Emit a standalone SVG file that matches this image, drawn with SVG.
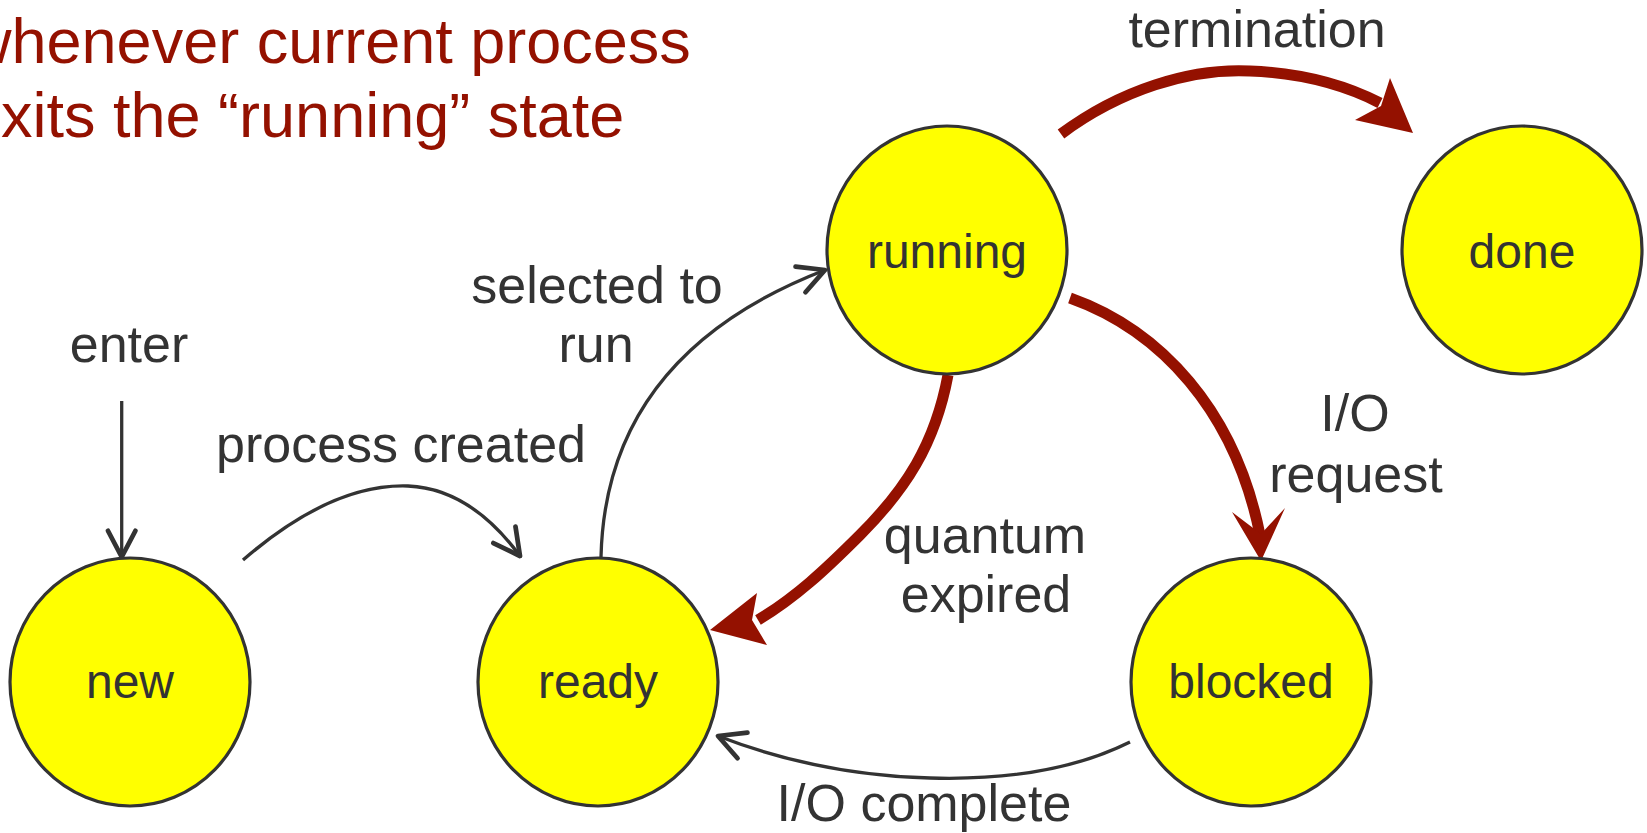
<svg xmlns="http://www.w3.org/2000/svg" width="1647" height="833" viewBox="0 0 1647 833">
  <style>
    .node { fill: #ffff00; stroke: #333333; stroke-width: 3.2; }
    .nlabel { font-family: "Liberation Sans", Arial, sans-serif; font-size: 48px; fill: #333333; text-anchor: middle; }
    .elabel { font-family: "Liberation Sans", Arial, sans-serif; font-size: 52px; fill: #333333; text-anchor: middle; }
    .title { font-family: "Liberation Sans", Arial, sans-serif; font-size: 63px; fill: #941100; }
    .thin { fill: none; stroke: #333333; stroke-width: 3.3; }
    .thick { fill: none; stroke: #941100; stroke-width: 11; }
    .head { fill: #941100; stroke: none; }
  </style>
  <defs>
    <marker id="open" markerUnits="userSpaceOnUse" markerWidth="40" markerHeight="40" viewBox="-26 -16 30 32" refX="0" refY="0" orient="auto">
      <path d="M -21 -11 L 0 0 L -21 11" fill="none" stroke="#333333" stroke-width="3.8" stroke-linecap="round" stroke-linejoin="round"/>
    </marker>
  </defs>
  <rect width="1647" height="833" fill="#ffffff"/>

  <g id="title">
    <text class="title" x="-34" y="63">whenever current process</text>
    <text class="title" x="-34" y="137">exits the “running” state</text>
  </g>

  <g id="connectors">
    <path id="e-enter" class="thin" d="M 121.7 401 L 121.7 557" marker-end="url(#open)"/>
    <path id="e-created" class="thin" d="M 243 560 C 295 515 350 484 408 486 C 455 488 492 518 520 556" marker-end="url(#open)"/>
    <path id="e-selected" class="thin" d="M 601 557 C 604 430 670 330 825 270" marker-end="url(#open)"/>
    <path id="e-iocomplete" class="thin" d="M 1130 742 C 1070 772 1000 780 930 778 C 850 776 780 760 718 736" marker-end="url(#open)"/>
    <g id="e-termination">
      <path class="thick" d="M 1061 134 C 1120 90 1190 68 1250 71 C 1300 73 1345 85 1380 103"/>
      <polygon class="head" points="1413,133 1390,78 1381,106 1355,120"/>
    </g>
    <g id="e-iorequest">
      <path class="thick" d="M 1070 298 C 1160 330 1235 410 1260 535"/>
      <polygon class="head" points="1261,561 1232,512 1261,534 1285,508"/>
    </g>
    <g id="e-quantum">
      <path class="thick" d="M 948 375 C 935 445 905 490 860 535 C 825 570 795 598 758 620"/>
      <polygon class="head" points="710,630 757,593 752,620 767,645"/>
    </g>
  </g>

  <g id="labels">
    <text class="elabel" x="1257" y="47">termination</text>
    <text class="elabel" x="597" y="303">selected to</text>
    <text class="elabel" x="596" y="362">run</text>
    <text class="elabel" x="129" y="362">enter</text>
    <text class="elabel" x="401" y="462">process created</text>
    <text class="elabel" x="1355" y="431">I/O</text>
    <text class="elabel" x="1356" y="492">request</text>
    <text class="elabel" x="985" y="553">quantum</text>
    <text class="elabel" x="986" y="612">expired</text>
    <text class="elabel" x="924" y="821">I/O complete</text>
  </g>

  <g id="node-new">
    <ellipse class="node" cx="130" cy="682" rx="120" ry="124"/>
    <text class="nlabel" x="130" y="698">new</text>
  </g>
  <g id="node-ready">
    <ellipse class="node" cx="598" cy="682" rx="120" ry="124"/>
    <text class="nlabel" x="598" y="698">ready</text>
  </g>
  <g id="node-running">
    <ellipse class="node" cx="947" cy="250" rx="120" ry="124"/>
    <text class="nlabel" x="947" y="268">running</text>
  </g>
  <g id="node-done">
    <ellipse class="node" cx="1522" cy="250" rx="120" ry="124"/>
    <text class="nlabel" x="1522" y="268">done</text>
  </g>
  <g id="node-blocked">
    <ellipse class="node" cx="1251" cy="682" rx="120" ry="124"/>
    <text class="nlabel" x="1251" y="698">blocked</text>
  </g>
</svg>
